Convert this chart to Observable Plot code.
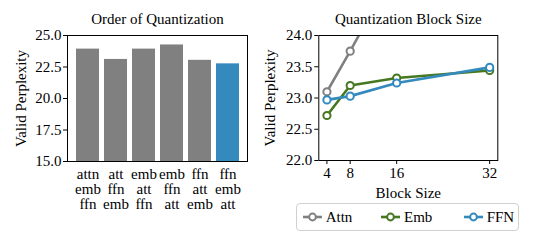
<!DOCTYPE html>
<html><head><meta charset="utf-8">
<script src="https://cdn.jsdelivr.net/npm/d3@7"></script>
<script src="https://cdn.jsdelivr.net/npm/@observablehq/plot@0.6"></script>
<style>
body{margin:0;background:#fff;}
#wrap{position:relative;width:533px;height:245px;font-family:"Liberation Serif",serif;color:#000;}
#left,#right{position:absolute;top:0;}
#left{left:0px;}
#right{left:258px;}
#legend{position:absolute;left:296px;top:203px;width:223px;height:28px;box-sizing:border-box;border:1px solid #d0d0d0;border-radius:4px;font-size:15px;background:#fff;}
.item{position:absolute;top:0;height:26px;display:flex;align-items:center;}
.item svg{margin-right:4px;}
</style></head><body>
<div id="wrap"><div id="left"></div><div id="right"></div><div id="legend"></div></div>
<script>
// ---- data ----
const orders = ["attn\nemb\nffn", "att\nffn\nemb", "emb\natt\nffn", "emb\nffn\natt", "ffn\natt\nemb", "ffn\nemb\natt"];
const orderPerplexity = [23.92, 23.1, 23.92, 24.25, 23.03, 22.75];
const orderTicks = [15, 17.5, 20, 22.5, 25];

const blockSizes = [4, 8, 16, 32];
const seriesNames = ["Attn", "Emb", "FFN"];
const attnPerplexity = [23.1, 23.75, 25.1, 26.0];
const embPerplexity = [22.72, 23.2, 23.32, 23.44];
const ffnPerplexity = [22.97, 23.03, 23.24, 23.49];
const blockTicksY = [22, 22.5, 23, 23.5, 24];

// ---- styles ----
const gray = "#808080", green = "#467821", blue = "#348ABD";
const font = "Liberation Serif";
const baseStyle = {fontFamily: font, fontSize: "15px", color: "black", background: "transparent", overflow: "visible"};

// ---- left chart ----
const barData = orders.map((o, i) => ({order: o, ppl: orderPerplexity[i]}));
const best = d3.min(orderPerplexity);
const left = Plot.plot({
  width: 258, height: 245,
  marginTop: 35, marginBottom: 84, marginLeft: 67, marginRight: 11,
  style: baseStyle,
  x: {domain: orders, range: [70.3, 244.2], padding: 0.19},
  y: {domain: [15, 25]},
  marks: [
    Plot.barY(barData, {x: "order", y: "ppl", fill: d => d.ppl === best ? blue : gray, clip: true}),
    Plot.frame({stroke: "black", strokeWidth: 1}),
    Plot.axisY({ticks: orderTicks, tickFormat: d3.format(".1f"), tickSize: 4, tickPadding: 2, label: null, fontSize: 15}),
    Plot.axisX({tickSize: 0, tickPadding: 7, label: null, lineHeight: 1, fontSize: 15}),
    Plot.text(["Valid Perplexity"], {frameAnchor: "left", dx: -46.6, rotate: -90, textAnchor: "middle", lineAnchor: "middle", fontSize: 15}),
    Plot.text(["Order of Quantization"], {frameAnchor: "top", dy: -16, lineAnchor: "middle", fontSize: 15})
  ]
});
document.getElementById("left").appendChild(left);

// ---- right chart ----
const seriesValues = [attnPerplexity, embPerplexity, ffnPerplexity];
const lineData = seriesNames.flatMap((s, k) => blockSizes.map((b, i) => ({series: s, size: b, ppl: seriesValues[k][i]})));
const seriesMarks = seriesNames.flatMap(s => {
  const d = lineData.filter(r => r.series === s);
  return [
    Plot.line(d, {x: "size", y: "ppl", stroke: "series", strokeWidth: 2.6, clip: true}),
    Plot.dot(d, {x: "size", y: "ppl", stroke: "series", fill: "white", r: 3.6, strokeWidth: 2, clip: true})
  ];
});
const right = Plot.plot({
  width: 275, height: 245,
  marginTop: 35, marginBottom: 85, marginLeft: 60.3, marginRight: 35.7,
  style: baseStyle,
  x: {domain: [2.6, 33.4]},
  y: {domain: [22, 24]},
  color: {domain: seriesNames, range: [gray, green, blue]},
  marks: [
    ...seriesMarks,
    Plot.frame({stroke: "black", strokeWidth: 1}),
    Plot.axisY({ticks: blockTicksY, tickFormat: d3.format(".1f"), tickSize: 4, tickPadding: 2.5, label: null, fontSize: 15}),
    Plot.axisX({ticks: blockSizes, tickFormat: d3.format("d"), tickSize: 4, tickPadding: 3, label: null, fontSize: 15}),
    Plot.text(["Valid Perplexity"], {frameAnchor: "left", dx: -48.3, rotate: -90, textAnchor: "middle", lineAnchor: "middle", fontSize: 15}),
    Plot.text(["Block Size"], {frameAnchor: "bottom", dy: 33, lineAnchor: "middle", fontSize: 15}),
    Plot.text(["Quantization Block Size"], {frameAnchor: "top", dy: -16, lineAnchor: "middle", fontSize: 15})
  ]
});
document.getElementById("right").appendChild(right);

// ---- legend ----
const legend = document.getElementById("legend");
const colorScale = right.scale("color");
const offsets = [5.7, 84, 166.7];
seriesNames.forEach((s, i) => {
  const c = colorScale.apply(s);
  const el = document.createElement("div");
  el.className = "item";
  el.style.left = offsets[i] + "px";
  el.innerHTML = `<svg width="19" height="12"><line x1="0" y1="6" x2="19" y2="6" stroke="${c}" stroke-width="2.6"/><circle cx="9.5" cy="6" r="3.4" fill="white" stroke="${c}" stroke-width="2"/></svg><span>${s}</span>`;
  legend.appendChild(el);
});
</script>
</body></html>
